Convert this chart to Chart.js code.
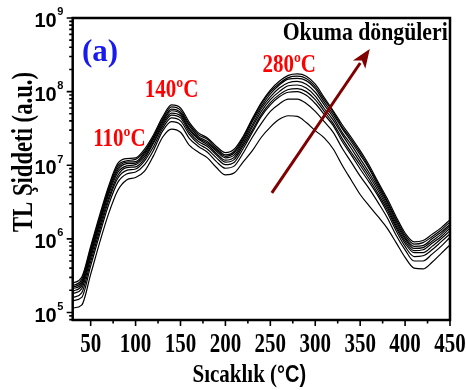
<!DOCTYPE html>
<html><head><meta charset="utf-8">
<script src="https://cdn.jsdelivr.net/npm/chart.js@4/dist/chart.umd.min.js"></script>
<style>html,body{margin:0;padding:0;background:#fff;overflow:hidden}</style>
</head><body>
<canvas id="c" width="466" height="390" style="display:block;width:466px;height:390px"></canvas>
<script>
// ---- data ----
const temps = [30,40,50,60,70,80,90,100,110,120,130,140,150,160,170,180,190,200,210,220,230,240,250,260,270,280,290,300,310,320,330,340,350,360,370,380,390,400,410,420,430,440,450];

const cycle1 = [1.15e5,1.26e5,3.3e5,8.9e5,2.2e6,4.5e6,6.3e6,6.8e6,8.3e6,1.35e7,2.4e7,3.1e7,2.8e7,1.86e7,1.5e7,1.26e7,9.3e6,7.4e6,7.9e6,1.12e7,1.58e7,2.4e7,3.3e7,4.2e7,4.7e7,4.6e7,3.8e7,2.95e7,2.35e7,1.66e7,1.0e7,6.3e6,4.0e6,2.8e6,2.0e6,1.4e6,8.9e5,5.6e5,4.0e5,3.9e5,4.8e5,6.3e5,8.3e5];
const cycle2 = [1.45e5,1.6e5,4.3e5,1.15e6,2.9e6,5.8e6,7.6e6,8.1e6,1.02e7,1.6e7,2.9e7,3.9e7,3.55e7,2.3e7,1.8e7,1.5e7,1.12e7,9.1e6,9.8e6,1.48e7,2.4e7,3.7e7,5.4e7,6.8e7,7.9e7,7.9e7,6.9e7,5.4e7,3.9e7,2.8e7,1.7e7,1.1e7,7.1e6,4.8e6,3.1e6,1.95e6,1.12e6,7.1e5,5.0e5,5.0e5,6.2e5,7.9e5,1.05e6];
const cycle3 = [1.6e5,1.85e5,4.9e5,1.3e6,3.3e6,6.6e6,8.5e6,8.9e6,1.15e7,1.8e7,3.15e7,4.4e7,4.0e7,2.6e7,1.95e7,1.65e7,1.26e7,1.02e7,1.1e7,1.7e7,2.8e7,4.6e7,6.6e7,8.5e7,9.8e7,1.0e8,8.9e7,6.9e7,4.9e7,3.45e7,2.1e7,1.38e7,8.9e6,5.9e6,3.8e6,2.3e6,1.29e6,7.9e5,5.75e5,5.9e5,7.1e5,9.1e5,1.17e6];
const cycle4 = [1.8e5,2.1e5,5.5e5,1.45e6,3.6e6,7.2e6,9.3e6,9.5e6,1.23e7,2.0e7,3.4e7,4.8e7,4.4e7,2.8e7,2.1e7,1.8e7,1.38e7,1.1e7,1.2e7,1.86e7,3.0e7,4.9e7,7.1e7,9.1e7,1.07e8,1.1e8,1.0e8,7.8e7,5.4e7,3.7e7,2.3e7,1.5e7,1.0e7,6.5e6,4.1e6,2.5e6,1.41e6,8.7e5,6.5e5,6.5e5,7.9e5,1.0e6,1.29e6];
const cycle5 = [1.95e5,2.3e5,6.0e5,1.6e6,4.0e6,7.9e6,9.8e6,1.02e7,1.32e7,2.1e7,3.6e7,5.1e7,4.7e7,3.0e7,2.25e7,1.9e7,1.45e7,1.17e7,1.29e7,2.0e7,3.3e7,5.4e7,7.8e7,1.0e8,1.2e8,1.23e8,1.12e8,8.7e7,5.9e7,4.1e7,2.6e7,1.7e7,1.1e7,7.2e6,4.5e6,2.7e6,1.51e6,9.3e5,6.9e5,7.1e5,8.7e5,1.07e6,1.41e6];
const cycle6 = [2.1e5,2.45e5,6.5e5,1.7e6,4.3e6,8.5e6,1.05e7,1.07e7,1.41e7,2.25e7,3.8e7,5.5e7,5.0e7,3.15e7,2.35e7,2.0e7,1.55e7,1.26e7,1.38e7,2.15e7,3.55e7,5.9e7,8.5e7,1.12e8,1.32e8,1.38e8,1.26e8,9.8e7,6.6e7,4.5e7,2.8e7,1.9e7,1.23e7,7.9e6,4.9e6,2.9e6,1.62e6,1.0e6,7.4e5,7.6e5,9.3e5,1.15e6,1.51e6];
const cycle7 = [2.2e5,2.6e5,6.9e5,1.8e6,4.6e6,9.1e6,1.1e7,1.12e7,1.48e7,2.35e7,4.0e7,5.8e7,5.25e7,3.4e7,2.45e7,2.1e7,1.62e7,1.32e7,1.48e7,2.25e7,3.9e7,6.3e7,9.3e7,1.23e8,1.48e8,1.51e8,1.41e8,1.1e8,7.2e7,4.9e7,3.15e7,2.1e7,1.38e7,8.9e6,5.25e6,3.15e6,1.74e6,1.05e6,7.9e5,8.1e5,1.0e6,1.23e6,1.58e6];
const cycle8 = [2.3e5,2.8e5,7.4e5,1.95e6,4.9e6,9.8e6,1.15e7,1.2e7,1.55e7,2.45e7,4.25e7,6.2e7,5.6e7,3.55e7,2.6e7,2.25e7,1.7e7,1.38e7,1.55e7,2.4e7,4.1e7,6.8e7,1.0e8,1.29e8,1.55e8,1.62e8,1.51e8,1.17e8,7.8e7,5.25e7,3.3e7,2.25e7,1.48e7,9.3e6,5.6e6,3.3e6,1.86e6,1.12e6,8.5e5,8.9e5,1.07e6,1.32e6,1.7e6];
const cycle9 = [2.5e5,3.0e5,7.9e5,2.1e6,5.2e6,1.05e7,1.23e7,1.26e7,1.66e7,2.6e7,4.5e7,6.6e7,6.0e7,3.8e7,2.75e7,2.35e7,1.8e7,1.48e7,1.66e7,2.5e7,4.3e7,7.1e7,1.05e8,1.38e8,1.66e8,1.74e8,1.62e8,1.26e8,8.3e7,5.5e7,3.55e7,2.4e7,1.58e7,1.0e7,5.9e6,3.55e6,2.0e6,1.2e6,9.1e5,9.5e5,1.15e6,1.41e6,1.82e6];

const xTickValues = [50,100,150,200,250,300,350,400,450];
const xMinorTickValues = [75,125,175,225,275,325,375,425];
const yTickValues = [1e5,1e6,1e7,1e8,1e9];
const yTickExponents = ["5","6","7","8","9"];
const xMin = 30, xMax = 450, yMin = 7.9e4, yMax = 1e9;

const peakLabels = ["110ºC","140ºC","280ºC"];
const peakLabelX = [82,140,271];
const peakLabelY = [2.4e7,1.1e8,2.4e8];
const panelLabel = "(a)";
const panelLabelAt = [60.4,3.6e8];
const arrowText = "Okuma döngüleri";
const arrowTextAt = [355.6,6.6e8];
const arrowFrom = [251.7,4.2e6];
const arrowTo = [360.7,3.8e8];
const xTitleMain = "Sıcaklık (";
const xTitleUnit = "°C)";
const yTitle = "TL Şiddeti (a.u.)";

// ---- chart ----
const SERIF = '"Liberation Serif", "Times New Roman", serif';
const SANS = '"Liberation Sans", Arial, sans-serif';
const series = [cycle1,cycle2,cycle3,cycle4,cycle5,cycle6,cycle7,cycle8,cycle9];

function drawText(ctx, text, x, y, o) {
  ctx.save();
  ctx.font = 'bold ' + o.size + 'px ' + o.family;
  let sx = o.sx || 1;
  if (o.width) sx = o.width / ctx.measureText(text).width;
  ctx.translate(x, y);
  if (o.rot) ctx.rotate(o.rot);
  ctx.scale(sx, o.sy || 1);
  ctx.fillStyle = o.color || '#000';
  ctx.textAlign = o.align || 'center';
  ctx.textBaseline = 'alphabetic';
  ctx.fillText(text, 0, (o.cap || 0.66) * o.size / 2);
  ctx.restore();
}

const decor = {
  id: 'decor',
  afterDraw(chart) {
    const ctx = chart.ctx, a = chart.chartArea;
    const xs = chart.scales.x, ys = chart.scales.y;
    ctx.save();
    ctx.strokeStyle = '#000';
    // ticks
    ctx.lineWidth = 1.6;
    ctx.beginPath();
    xTickValues.forEach(v => { const p = xs.getPixelForValue(v); ctx.moveTo(p, a.bottom); ctx.lineTo(p, a.bottom + 6); });
    xMinorTickValues.forEach(v => { const p = xs.getPixelForValue(v); ctx.moveTo(p, a.bottom); ctx.lineTo(p, a.bottom + 3.5); });
    yTickValues.forEach(v => { const p = ys.getPixelForValue(v); ctx.moveTo(a.left, p); ctx.lineTo(a.left - 6, p); });
    for (let d = 4; d <= 8; d++) for (let m = 2; m <= 9; m++) {
      const v = m * Math.pow(10, d);
      if (v < yMin || v > yMax) continue;
      const p = ys.getPixelForValue(v); ctx.moveTo(a.left, p); ctx.lineTo(a.left - 3.5, p);
    }
    ctx.stroke();
    // frame
    ctx.lineWidth = 2.5;
    ctx.strokeRect(a.left, a.top, a.right - a.left, a.bottom - a.top);
    ctx.restore();

    // tick labels
    xTickValues.forEach(v => drawText(ctx, String(v), xs.getPixelForValue(v), a.bottom + 22.5, {size: 21, family: SERIF, sy: 1.3}));
    yTickValues.forEach((v, i) => {
      const p = ys.getPixelForValue(v);
      drawText(ctx, "10", a.left - 16, p + 2, {size: 20, family: SANS, align: 'right', cap: 0.72});
      drawText(ctx, yTickExponents[i], a.left - 15.5, p - 6.5, {size: 11, family: SANS, align: 'left', cap: 0.72});
    });

    // axis titles
    ctx.save();
    ctx.font = 'bold 21px ' + SERIF;
    const w1 = ctx.measureText(xTitleMain).width;
    ctx.font = 'bold 20px ' + SANS;
    const w2 = ctx.measureText(xTitleUnit).width;
    ctx.restore();
    const xc = (a.left + a.right) / 2 - 12;
    const x0 = xc - (w1 + w2) / 2;
    drawText(ctx, xTitleMain, x0, 373.5, {size: 21, family: SERIF, sy: 1.2, align: 'left'});
    drawText(ctx, xTitleUnit, x0 + w1, 373.5, {size: 20, family: SANS, sy: 1.15, align: 'left', cap: 0.72});
    drawText(ctx, yTitle, 22.5, 152, {size: 23, family: SERIF, rot: -Math.PI / 2, width: 160, sy: 1.25});

    // annotations
    drawText(ctx, panelLabel, xs.getPixelForValue(panelLabelAt[0]), ys.getPixelForValue(panelLabelAt[1]), {size: 31, family: SERIF, color: '#1a1aee'});
    peakLabels.forEach((t, i) => drawText(ctx, t, xs.getPixelForValue(peakLabelX[i]), ys.getPixelForValue(peakLabelY[i]), {size: 21, family: SERIF, color: '#ff0000', sy: 1.2}));
    drawText(ctx, arrowText, xs.getPixelForValue(arrowTextAt[0]), ys.getPixelForValue(arrowTextAt[1]), {size: 22, family: SERIF, width: 165, sy: 1.15});

    // arrow
    const x1 = xs.getPixelForValue(arrowFrom[0]), y1 = ys.getPixelForValue(arrowFrom[1]);
    const x2 = xs.getPixelForValue(arrowTo[0]), y2 = ys.getPixelForValue(arrowTo[1]);
    const ang = Math.atan2(y2 - y1, x2 - x1), hl = 19, hw = 7.5;
    const bx = x2 - hl * Math.cos(ang), by = y2 - hl * Math.sin(ang);
    ctx.save();
    ctx.strokeStyle = '#800000'; ctx.fillStyle = '#800000'; ctx.lineWidth = 3;
    ctx.beginPath(); ctx.moveTo(x1, y1); ctx.lineTo(bx + 2 * Math.cos(ang), by + 2 * Math.sin(ang)); ctx.stroke();
    ctx.beginPath();
    ctx.moveTo(x2, y2);
    ctx.lineTo(bx + hw * Math.sin(ang), by - hw * Math.cos(ang));
    ctx.lineTo(x2 - (hl - 5) * Math.cos(ang), y2 - (hl - 5) * Math.sin(ang));
    ctx.lineTo(bx - hw * Math.sin(ang), by + hw * Math.cos(ang));
    ctx.closePath(); ctx.fill();
    ctx.restore();
  }
};

new Chart(document.getElementById('c'), {
  type: 'line',
  data: {
    datasets: series.map((s, k) => ({
      label: 'cycle' + (k + 1),
      data: temps.map((t, i) => ({x: t, y: s[i]})),
      borderColor: '#000',
      borderWidth: 1.2,
      pointRadius: 0,
      fill: false,
      cubicInterpolationMode: 'monotone'
    }))
  },
  options: {
    responsive: false,
    animation: false,
    devicePixelRatio: 1,
    layout: {padding: {top: 18, right: 16, left: 0, bottom: 0}},
    plugins: {legend: {display: false}, tooltip: {enabled: false}},
    scales: {
      x: {
        type: 'linear', min: xMin, max: xMax,
        grid: {display: false}, border: {display: false},
        ticks: {display: false},
        afterBuildTicks: s => { s.ticks = xTickValues.map(v => ({value: v})); },
        afterFit: s => { s.height = 70; }
      },
      y: {
        type: 'logarithmic', min: yMin, max: yMax,
        grid: {display: false}, border: {display: false},
        ticks: {display: false},
        afterBuildTicks: s => { s.ticks = yTickValues.map(v => ({value: v})); },
        afterFit: s => { s.width = 72.7; }
      }
    }
  },
  plugins: [decor]
});
</script>
</body></html>
